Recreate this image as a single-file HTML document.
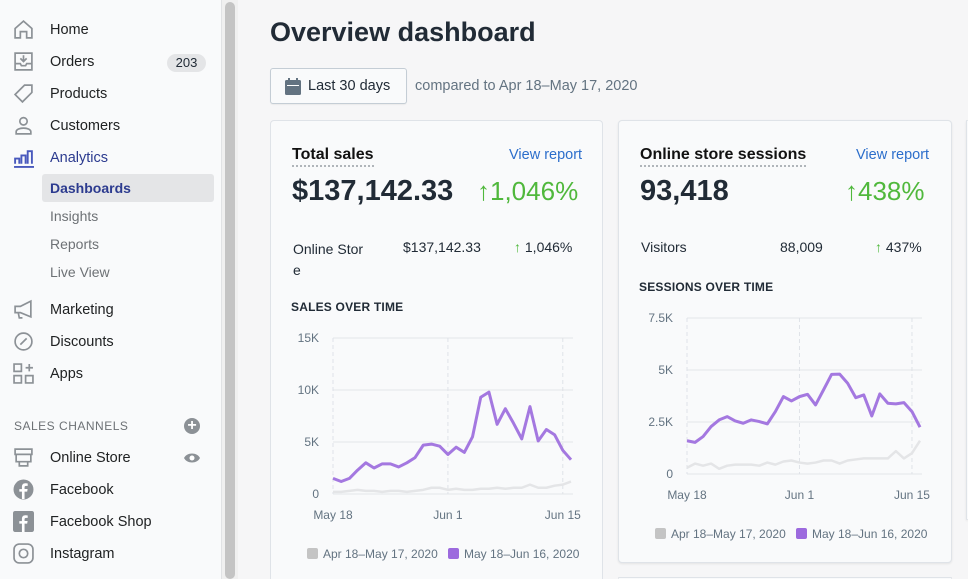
<!DOCTYPE html>
<html style="width:968px;height:579px;overflow:hidden"><head><meta charset="utf-8">
<style>
*{box-sizing:border-box;margin:0;padding:0}
body{width:968px;height:579px;overflow:hidden;background:#f6f6f7;font-family:"Liberation Sans",sans-serif;color:#212b36;position:relative}
.abs{position:absolute}
#side{left:0;top:0;width:222px;height:579px;background:#f9fafb;border-right:1px solid #e1e3e5}
.nav{position:absolute;left:50px;font-size:14.5px;color:#202223}
.ico{position:absolute;left:13px;width:21px;height:21px}
.sub{position:absolute;left:50px;font-size:14px;color:#6d7175}
#scroll{left:225px;top:2px;width:10px;height:577px;background:#c4c4c4;border-radius:5px}
#scrolltrack{left:222px;top:0;width:16px;height:579px;background:#f0f0f0}
.card{position:absolute;background:#f9fafb;border:1px solid #dfe3e8;border-radius:4px;box-shadow:0 1px 2px rgba(0,0,0,.08)}
.ttl{position:absolute;font-size:16px;font-weight:bold;border-bottom:2px dotted #b0b5ba;line-height:20px;color:#111}
.vr{position:absolute;font-size:14.5px;color:#2c6ecb}
.big{position:absolute;font-size:29px;font-weight:bold;color:#212b36}
.pct{position:absolute;font-size:26px;color:#50b83c}
.row{position:absolute;font-size:14px;color:#212b36}
.cap{position:absolute;font-size:12px;font-weight:bold;color:#212b36;letter-spacing:.2px}
svg text{font-family:"Liberation Sans",sans-serif;font-size:12px;fill:#637381}
</style></head><body>
<div id="side" class="abs">
 <svg class="ico" style="top:19px" viewBox="0 0 20 20"><path d="M2 9L10 2l8 7v9H13v-6H7v6H2z" fill="none" stroke="#8c9196" stroke-width="1.6"/></svg>
 <div class="nav" style="top:22px">Home</div>
 <svg class="ico" style="top:51px" viewBox="0 0 20 20"><path d="M2 2h16v16H2zM2 12h5l1 2h4l1-2h5M10 4v6M7 7l3 3 3-3" fill="none" stroke="#8c9196" stroke-width="1.6"/></svg>
 <div class="nav" style="top:54px">Orders</div>
 <div class="abs" style="left:167px;top:54px;width:39px;height:18px;border-radius:9px;background:#e4e5e7;font-size:13px;text-align:center;line-height:18px">203</div>
 <svg class="ico" style="top:83px" viewBox="0 0 20 20"><path d="M11 2h7v7l-9 9-7-7z" fill="none" stroke="#8c9196" stroke-width="1.6"/></svg>
 <div class="nav" style="top:86px">Products</div>
 <svg class="ico" style="top:115px" viewBox="0 0 20 20"><circle cx="10" cy="6" r="3.5" fill="none" stroke="#8c9196" stroke-width="1.6"/><path d="M3 18v-2c0-2 3-3.5 7-3.5s7 1.5 7 3.5v2z" fill="none" stroke="#8c9196" stroke-width="1.6"/></svg>
 <div class="nav" style="top:118px">Customers</div>
 <svg class="ico" style="top:147px" viewBox="0 0 20 20"><path d="M1 19h19M2 16v-5h4v5M8 16V8h4v8M14 16V4h4v12" fill="none" stroke="#4959bd" stroke-width="1.8"/></svg>
 <div class="nav" style="top:150px;color:#2c3b8f">Analytics</div>
 <div class="abs" style="left:42px;top:174px;width:172px;height:28px;background:#e4e5e7;border-radius:3px"></div>
 <div class="nav" style="top:180px;color:#2c3b8f;font-weight:bold;font-size:14px">Dashboards</div>
 <div class="sub" style="top:208px">Insights</div>
 <div class="sub" style="top:236px">Reports</div>
 <div class="sub" style="top:264px">Live View</div>
 <svg class="ico" style="top:299px" viewBox="0 0 20 20"><path d="M2 7h5l10-5v15L7 13H2zM5 13l1 5h3" fill="none" stroke="#8c9196" stroke-width="1.6"/></svg>
 <div class="nav" style="top:302px">Marketing</div>
 <svg class="ico" style="top:331px" viewBox="0 0 20 20"><circle cx="10" cy="10" r="8" fill="none" stroke="#8c9196" stroke-width="1.6"/><path d="M7 13l6-6" stroke="#8c9196" stroke-width="1.6"/></svg>
 <div class="nav" style="top:334px">Discounts</div>
 <svg class="ico" style="top:363px" viewBox="0 0 20 20"><path d="M1 1h7v7H1zM1 12h7v7H1zM12 12h7v7h-7zM15.5 1v7M12 4.5h7" fill="none" stroke="#8c9196" stroke-width="1.6"/></svg>
 <div class="nav" style="top:366px">Apps</div>
 <div class="abs" style="left:14px;top:419px;font-size:12px;color:#6d7175;letter-spacing:.5px">SALES CHANNELS</div>
 <div class="abs" style="left:184px;top:418px;width:16px;height:16px;border-radius:50%;background:#8c9196;color:#fff;font-size:16px;line-height:16px;text-align:center;font-weight:bold">+</div>
 <svg class="ico" style="top:447px" viewBox="0 0 20 20"><path d="M2 2h16v5H2zM3 7v7h14V7M6 14v4h8v-4" fill="none" stroke="#8c9196" stroke-width="1.6"/></svg>
 <div class="nav" style="top:450px">Online Store</div>
 <svg class="abs" style="left:183px;top:451px;width:18px;height:14px" viewBox="0 0 18 14"><path d="M1 7C4 1 14 1 17 7 14 13 4 13 1 7z" fill="#8c9196"/><circle cx="9" cy="7" r="2.5" fill="#fff"/></svg>
 <svg class="ico" style="top:479px" viewBox="0 0 20 20"><circle cx="10" cy="10" r="9.5" fill="#8c9196"/><path d="M11 19v-7h2.5l.4-2.5H11V8c0-1 .4-1.5 1.5-1.5H14V4.3c-.5 0-1.3-.2-2.2-.2-2.2 0-3.3 1.3-3.3 3.5v2H6V12h2.5v7z" fill="#fff"/></svg>
 <div class="nav" style="top:482px">Facebook</div>
 <svg class="ico" style="top:511px" viewBox="0 0 20 20"><rect x="0" y="0" width="20" height="20" rx="2" fill="#8c9196"/><path d="M11 20v-8h2.5l.4-2.5H11V8c0-1 .4-1.5 1.5-1.5H14V4.3c-.5 0-1.3-.2-2.2-.2-2.2 0-3.3 1.3-3.3 3.5v2H6V12h2.5v8z" fill="#fff"/></svg>
 <div class="nav" style="top:514px">Facebook Shop</div>
 <svg class="ico" style="top:543px" viewBox="0 0 20 20"><rect x="1" y="1" width="18" height="18" rx="5" fill="none" stroke="#8c9196" stroke-width="1.6"/><circle cx="10" cy="10" r="4" fill="none" stroke="#8c9196" stroke-width="1.6"/></svg>
 <div class="nav" style="top:546px">Instagram</div>
</div>
<div id="scrolltrack" class="abs"></div>
<div id="scroll" class="abs"></div>

<div class="abs" style="left:270px;top:17px;font-size:27px;font-weight:bold;color:#212b36">Overview dashboard</div>
<div class="abs" style="left:270px;top:68px;width:137px;height:36px;border:1px solid #c4cdd5;border-radius:3px;background:#f9fafb;box-shadow:0 1px 1px rgba(0,0,0,.05)">
 <svg class="abs" style="left:14px;top:9px;width:16px;height:17px" viewBox="0 0 16 17"><rect x="0" y="2" width="16" height="15" rx="1.5" fill="#637381"/><rect x="3" y="0" width="2" height="4" fill="#637381"/><rect x="11" y="0" width="2" height="4" fill="#637381"/><rect x="2" y="7" width="12" height="1" fill="#fff"/></svg>
 <div class="abs" style="left:37px;top:9px;font-size:14.5px;color:#212b36">Last 30 days</div>
</div>
<div class="abs" style="left:415px;top:78px;font-size:14.5px;color:#637381">compared to Apr 18–May 17, 2020</div>

<div class="card" style="left:270px;top:120px;width:333px;height:459px;border-bottom:none;border-radius:4px 4px 0 0;box-shadow:none">
 <div class="ttl" style="left:21px;top:24px">Total sales</div>
 <div class="vr" style="left:238px;top:26px">View report</div>
 <div class="big" style="left:21px;top:54px">$137,142.33</div>
 <div class="pct" style="left:206px;top:55px">↑1,046%</div>
 <div class="row" style="left:22px;top:118px;line-height:21px">Online Stor<br>e</div>
 <div class="row" style="left:132px;top:118px">$137,142.33</div>
 <div class="row" style="left:243px;top:118px"><span style="color:#50b83c">↑</span> 1,046%</div>
 <div class="cap" style="left:20px;top:179px">SALES OVER TIME</div>
</div>
<div class="card" style="left:618px;top:120px;width:334px;height:443px">
 <div class="ttl" style="left:21px;top:24px">Online store sessions</div>
 <div class="vr" style="left:237px;top:26px">View report</div>
 <div class="big" style="left:21px;top:54px">93,418</div>
 <div class="pct" style="left:226px;top:55px">↑438%</div>
 <div class="row" style="left:22px;top:118px">Visitors</div>
 <div class="row" style="left:161px;top:118px">88,009</div>
 <div class="row" style="left:256px;top:118px"><span style="color:#50b83c">↑</span> 437%</div>
 <div class="cap" style="left:20px;top:159px">SESSIONS OVER TIME</div>
</div>
<div class="card" style="left:966px;top:120px;width:2px;height:400px;border-right:none"></div>
<div class="card" style="left:618px;top:577px;width:334px;height:2px;border-bottom:none;box-shadow:none"></div>

<svg class="abs" id="chart1" style="left:0;top:0" width="968" height="579"></svg>
<svg class="abs" id="chart2" style="left:0;top:0" width="968" height="579"></svg>

<script>
const salesCurrent=[1.5,1.2,1.5,2.3,3.0,2.5,2.9,2.9,2.6,3.0,3.5,4.7,4.8,4.6,3.8,4.5,4.0,5.5,9.3,9.8,6.7,8.2,6.8,5.3,8.4,5.1,6.2,5.7,4.2,3.3];
const salesPrevious=[0.2,0.2,0.3,0.4,0.3,0.3,0.2,0.3,0.3,0.2,0.3,0.4,0.6,0.6,0.4,0.5,0.4,0.4,0.5,0.5,0.6,0.5,0.6,0.6,0.9,0.6,0.6,0.8,0.9,1.2];
const salesTicks=["0","5K","10K","15K"];
const sessionsCurrent=[1.6,1.52,1.8,2.28,2.6,2.76,2.55,2.44,2.6,2.52,2.41,3.0,3.72,3.51,3.72,3.83,3.32,4.05,4.79,4.8,4.36,3.67,3.8,2.79,3.85,3.4,3.37,3.43,3.0,2.25];
const sessionsPrevious=[0.3,0.5,0.4,0.5,0.25,0.4,0.45,0.45,0.45,0.4,0.55,0.45,0.6,0.65,0.55,0.5,0.55,0.65,0.65,0.5,0.65,0.7,0.75,0.75,0.75,0.75,1.1,0.75,1.0,1.6];
const sessionsTicks=["0","2.5K","5K","7.5K"];
const dateLabels=["May 18","Jun 1","Jun 15"];
const dateIdx=[0,14,28];
const legendLabels=["Apr 18–May 17, 2020","May 18–Jun 16, 2020"];
const NS="http://www.w3.org/2000/svg";
function mk(svg,tag,attrs){const e=document.createElementNS(NS,tag);for(const k in attrs)e.setAttribute(k,attrs[k]);svg.appendChild(e);return e;}
function draw(id,cur,prev,ticks,maxV,L,R,T,B,legY,legX,prefix){
 const svg=document.getElementById(id);
 const x=i=>L+(R-L)*i/(cur.length-1);
 const y=v=>B-(B-T)*v/maxV;
 ticks.forEach((t,i)=>{const v=maxV*i/(ticks.length-1);
  const g=mk(svg,'line',{x1:L,x2:R+2,y1:y(v),y2:y(v),stroke:'#e3e5e8','stroke-width':1});
  
  const tx=mk(svg,'text',{x:L-14,y:y(v)+4,'text-anchor':'end'});tx.textContent=t;
  });
 dateIdx.forEach((d,i)=>{
  const g=mk(svg,'line',{x1:x(d),x2:x(d),y1:T,y2:B,stroke:'#dfe3e8','stroke-dasharray':'4 3'});
  
  const tx=mk(svg,'text',{x:x(d),y:B+25,'text-anchor':'middle'});tx.textContent=dateLabels[i];
  });
 const pl=mk(svg,'polyline',{points:prev.map((v,i)=>x(i)+','+y(v)).join(' '),fill:'none',stroke:'#e4e5e7','stroke-width':2.5,'stroke-linejoin':'round'});
 
 const cl=mk(svg,'polyline',{points:cur.map((v,i)=>x(i)+','+y(v)).join(' '),fill:'none',stroke:'#a478e0','stroke-width':3,'stroke-linejoin':'round'});
 
 const cols=['#c4c4c4','#9c6ade'];let lx=legX;
 legendLabels.forEach((l,i)=>{
  const r=mk(svg,'rect',{x:lx,y:legY-10,width:11,height:11,rx:2,fill:cols[i]});
  
  const t=mk(svg,'text',{x:lx+16,y:legY,'font-size':13});t.textContent=l;
  
  lx+=i==0?141:0;});
}
draw('chart1',salesCurrent,salesPrevious,salesTicks,15,333,571,338,494,558,307,'sales');
draw('chart2',sessionsCurrent,sessionsPrevious,sessionsTicks,7.5,687,920,318,474,538,655,'sessions');
</script>
</body></html>
